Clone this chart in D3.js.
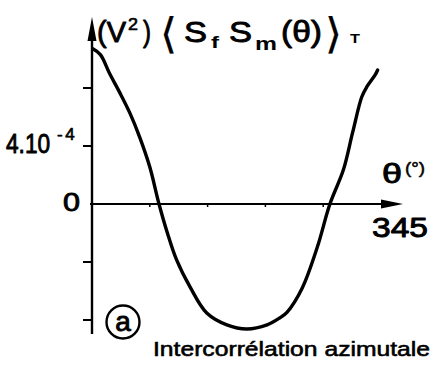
<!DOCTYPE html>
<html>
<head>
<meta charset="utf-8">
<script src="https://cdn.jsdelivr.net/npm/d3@7"></script>
<style>
  html, body { margin: 0; padding: 0; background: #fff; }
  svg { display: block; }
  text { font-family: "Liberation Sans", Arial, Helvetica, sans-serif; fill: #000; }
</style>
</head>
<body>
<svg id="chart" width="438" height="366"></svg>
<script>
// Azimuthal cross-correlation <Sf Sm(θ)>_T versus azimuth θ (degrees)
const thetaDeg = [1, 10, 21, 33, 45, 57, 69, 80, 90, 101, 117, 137, 161, 185, 209, 224, 233, 251, 269, 284, 300, 311, 322, 328, 338, 341];
// correlation values, in units of 1e-4 V²
const corr = [10.7, 10.3, 9.0, 7.7, 6.3, 4.6, 2.55, 0.0, -2.0, -3.86, -5.72, -7.52, -8.34, -8.62, -8.34, -7.86, -7.45, -5.79, -2.97, 0.0, 2.34, 4.9, 7.38, 8.07, 8.9, 9.24];

const yTickValues = [-8, -4, 4, 8];      // ×1e-4
const xTickValues = [69, 138, 207, 276];  // degrees
const xEndLabel = "345";

const svg = d3.select("#chart");

const x = d3.scaleLinear().domain([0, 345]).range([92, 381]);
const y = d3.scaleLinear().domain([0, 4]).range([204, 146]);

const axisStroke = 2.4;

// y axis line with arrow
svg.append("line")
  .attr("x1", x(0)).attr("x2", x(0))
  .attr("y1", 334).attr("y2", 30)
  .attr("stroke", "#000").attr("stroke-width", axisStroke);
svg.append("path")
  .attr("d", `M${x(0)},17 L${x(0) - 4.5},41 L${x(0) + 4.5},41 Z`)
  .attr("fill", "#000");

// y ticks (on the left of the axis)
svg.selectAll(".ytick").data(yTickValues).enter().append("line")
  .attr("x1", x(0) - 9).attr("x2", x(0))
  .attr("y1", d => y(d)).attr("y2", d => y(d))
  .attr("stroke", "#000").attr("stroke-width", 2);

// x axis line with arrow
svg.append("line")
  .attr("x1", 90).attr("x2", 388)
  .attr("y1", y(0)).attr("y2", y(0))
  .attr("stroke", "#000").attr("stroke-width", 2);
svg.append("path")
  .attr("d", `M403,${y(0)} L381,${y(0) - 4.5} L381,${y(0) + 4.5} Z`)
  .attr("fill", "#000");

// small x ticks below the axis
svg.selectAll(".xtick").data(xTickValues).enter().append("line")
  .attr("x1", d => x(d)).attr("x2", d => x(d))
  .attr("y1", y(0)).attr("y2", y(0) + 3)
  .attr("stroke", "#000").attr("stroke-width", 1.5);

// correlation curve
const pts = thetaDeg.map((t, i) => [t, corr[i]]);
const line = d3.line()
  .x(d => x(d[0]))
  .y(d => y(d[1]))
  .curve(d3.curveCatmullRom.alpha(0.5));
svg.append("path")
  .datum(pts)
  .attr("d", line)
  .attr("fill", "none")
  .attr("stroke", "#000")
  .attr("stroke-width", 3.4)
  .attr("stroke-linecap", "round")
  .attr("stroke-linejoin", "round");

// helper for text pieces: regular face thickened by a thin outline
function txt(s, px, py, size, opts = {}) {
  const t = svg.append("text")
    .attr("x", px).attr("y", py)
    .attr("font-size", size)
    .attr("font-weight", opts.weight || "normal")
    .attr("stroke", "#000")
    .attr("stroke-width", opts.sw != null ? opts.sw : 0.9)
    .attr("stroke-linejoin", "round")
    .text(s);
  if (opts.len) t.attr("textLength", opts.len).attr("lengthAdjust", "spacingAndGlyphs");
  if (opts.anchor) t.attr("text-anchor", opts.anchor);
  if (opts.family) t.style("font-family", opts.family);
  return t;
}

// y axis title: (V²)⟨Sf Sm(θ)⟩T
txt("(V", 97, 42, 30, { len: 29 });
txt("2", 128, 30, 17, { len: 10, sw: 0.6 });
txt(")", 143, 42, 30, { len: 8 });
txt("\u27E8", 160, 48, 42, { len: 17, sw: 0.3, family: "DejaVu Sans" });
txt("S", 184, 42, 30, { len: 23 });
txt("f", 211, 48, 16, { len: 8, weight: "bold", sw: 0 });
txt("S", 229, 42, 30, { len: 23 });
txt("m", 255, 50, 19, { len: 22, weight: "bold", sw: 0 });
txt("(\u03B8)", 281, 42, 30, { len: 41 });
txt("\u27E9", 325, 48, 42, { len: 17, sw: 0.3, family: "DejaVu Sans" });
txt("T", 350, 43, 12, { len: 10, weight: "bold", sw: 0 });

// y tick label 4.10⁻⁴: mantissa condensed horizontally, exponent raised
svg.append("text")
  .attr("transform", "translate(6,153) scale(0.84,1)")
  .attr("font-size", 27)
  .attr("stroke", "#000").attr("stroke-width", 0.9).attr("stroke-linejoin", "round")
  .text("4.10");
svg.append("text")
  .attr("x", 57).attr("y", 140)
  .attr("font-size", 17)
  .attr("letter-spacing", 2.5)
  .attr("stroke", "#000").attr("stroke-width", 0.6).attr("stroke-linejoin", "round")
  .text("-4");

txt("0", 63, 211, 26, { len: 17 });

// x axis title and end label
txt("\u03B8", 382, 183, 28, { len: 20 });
txt("(\u00B0)", 405, 174, 16, { len: 20, sw: 0.5 });
txt(xEndLabel, 372, 237, 28, { len: 56 });

// panel marker
svg.append("circle")
  .attr("cx", 123).attr("cy", 322).attr("r", 16.5)
  .attr("fill", "none").attr("stroke", "#000").attr("stroke-width", 2.4);
txt("a", 123, 331, 28, { anchor: "middle" });

// caption
txt("Intercorrélation azimutale", 153, 356, 21, { len: 277, sw: 0.6 });
</script>
</body>
</html>
